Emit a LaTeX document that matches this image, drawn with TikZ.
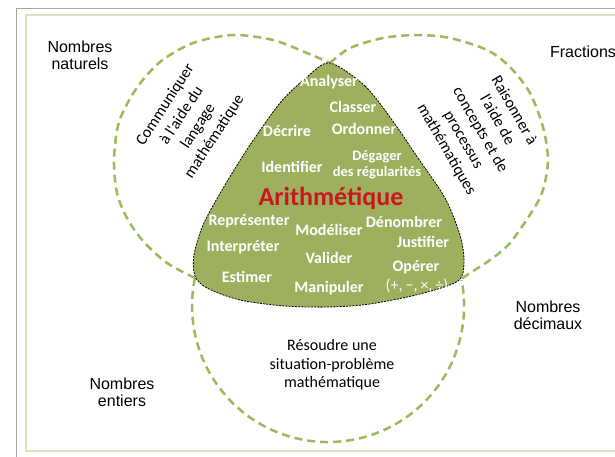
\documentclass[tikz,border=0pt]{standalone}
\usepackage{fontspec}
\usepackage{xcolor}
\setmainfont{Liberation Sans}
\newfontfamily\calibfont{Carlito}
\definecolor{olivefill}{HTML}{9DB05E}
\definecolor{venngreen}{HTML}{9BBB59}
\definecolor{palegreen}{HTML}{D7E4BD}
\definecolor{framegray}{HTML}{A6A6A6}
\definecolor{arithred}{HTML}{C8171E}
\tikzset{venn line/.style={draw=venngreen, line width=2.5pt, dash pattern=on 8pt off 5pt},
    core/.style={fill=olivefill, draw=black, line width=0.8pt, dash pattern=on 2pt off 1.2pt},
    skill/.style={font=\calibfont\bfseries\fontsize{16}{18}\selectfont, text=white, inner sep=0pt, align=center},
    process/.style={font=\calibfont\fontsize{16}{19.5}\selectfont, align=center, inner sep=0pt},
    number/.style={font=\fontsize{16}{17}\selectfont, align=center, inner sep=0pt}}

\begin{document}
\begin{tikzpicture}[x=1pt, y=-1pt]
    \useasboundingbox (0,0) rectangle (615,456);
    \clip (0,0) rectangle (615,456);
    % frames
    \draw[framegray, line width=1pt] (16,460) -- (16,8) -- (620,8);
    \draw[palegreen, line width=2pt] (630,451) -- (26,451) -- (26,15) -- (630,15);
    % the three sets
    \draw[venn line] plot[smooth] coordinates {(195,278) (167,263) (143,241) (127,218)
        (117,193) (114,160) (119,122) (136,89) (160,62) (193,43) (233,35) (273,40)
        (307,53) (330,63)};
    \draw[venn line] plot[smooth] coordinates {(330,63) (350,48) (383,38) (417,35)
        (450,38) (487,50) (510,67) (530,93) (543,127) (548,160) (543,190) (533,210)
        (510,243) (490,260) (470,273) (460,280)};
    \draw[venn line] (195,278) arc[start angle=191.9, end angle=-11, radius=136];
    % common part
    \draw[core] plot[smooth cycle] coordinates {(330,63) (365,86) (392,120) (418,158)
        (445,198) (460,235) (464,262) (458,281) (420,294) (370,304) (330,307)
        (285,306) (240,300) (207,288) (195,276) (194,255) (203,225) (222,190)
        (248,148) (280,103) (307,77)};
    % skills
    \node[skill] (analyser) at (329,82) {Analyser};
    \node[skill] (classer) at (353,107) {Classer};
    \node[skill] (ordonner) at (364,129) {Ordonner};
    \node[skill] (decrire) at (287,131) {Décrire};
    \node[skill] (identifier) at (292,167) {Identifier};
    \node[skill, font=\calibfont\bfseries\fontsize{14.5}{16}\selectfont] (degager) at (377,165)
        {Dégager\\des régularités};
    \node[skill, font=\calibfont\bfseries\fontsize{26}{28}\selectfont, text=arithred] (arith)
        at (331,198) {Arithmétique};
    \node[skill] (representer) at (249,221) {Représenter};
    \node[skill] (modeliser) at (329,230) {Modéliser};
    \node[skill] (denombrer) at (404,222) {Dénombrer};
    \node[skill] (interpreter) at (243,247) {Interpréter};
    \node[skill] (justifier) at (423,242) {Justifier};
    \node[skill] (valider) at (329,258) {Valider};
    \node[skill] (operer) at (416,267) {Opérer};
    \node[skill] (estimer) at (247,277) {Estimer};
    \node[skill] (manipuler) at (329,288) {Manipuler};
    \node[skill, font=\calibfont\fontsize{16}{18}\selectfont] (signes) at (417,286)
        {(+,\hspace{3pt}−,\hspace{3pt}×,\hspace{3pt}÷)};
    % processes
    \node[process, rotate=57] (communiquer) at (190,121)
        {Communiquer\\à l'aide du\\langage\\mathématique};
    \node[process, rotate=-60] (raisonner) at (480,130)
        {Raisonner à\\l'aide de\\concepts et de\\processus\\mathématiques};
    \node[process, font=\calibfont\fontsize{16}{18.5}\selectfont] (resoudre) at (332,365)
        {Résoudre une\\situation-problème\\mathématique};
    % number sets
    \node[number] (naturels) at (80,55) {Nombres\\naturels};
    \node[number] (fractions) at (583,52) {Fractions};
    \node[number] (decimaux) at (548,315) {Nombres\\décimaux};
    \node[number] (entiers) at (122,392) {Nombres\\entiers};
\end{tikzpicture}
\end{document}
